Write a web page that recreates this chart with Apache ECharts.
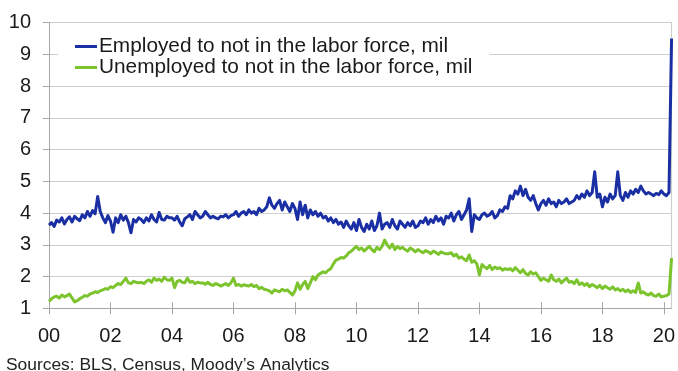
<!DOCTYPE html>
<html>
<head>
<meta charset="utf-8">
<script src="https://cdn.jsdelivr.net/npm/echarts@6/dist/echarts.min.js"></script>
<style>
  html, body { margin: 0; padding: 0; background: #fff; }
  #chart { width: 678px; height: 371px; }
</style>
</head>
<body>
<div id="chart"></div>
<script>
// Monthly flows into "not in the labor force", millions, Jan 2000 - Apr 2020
const startYear = 2000;
const yearLabels = ['00', '02', '04', '06', '08', '10', '12', '14', '16', '18', '20'];
const yTicks = [1, 2, 3, 4, 5, 6, 7, 8, 9, 10];

const employedToNilf = [
  3.62, 3.70, 3.58, 3.78, 3.72, 3.85, 3.66, 3.80, 3.88, 3.72, 3.90, 3.82,
  3.76, 3.95, 3.85, 4.05, 3.90, 4.08, 3.98, 4.52, 4.05, 3.85, 3.70, 3.92,
  3.75, 3.40, 3.85, 3.70, 3.95, 3.78, 3.90, 3.70, 3.38, 3.80, 3.72, 3.85,
  3.80, 3.70, 3.85, 3.75, 3.95, 3.80, 3.72, 4.02, 3.80, 3.78, 3.90, 3.85,
  3.85, 3.78, 3.90, 3.72, 3.60, 3.82, 3.88, 3.95, 3.80, 4.05, 3.95, 3.85,
  3.90, 4.05, 3.95, 3.85, 3.90, 3.85, 3.82, 3.90, 3.88, 3.95, 3.85, 3.92,
  3.95, 4.05, 3.90, 4.00, 4.05, 3.95, 4.10, 4.00, 4.05, 3.95, 4.15, 4.05,
  4.10, 4.20, 4.48, 4.25, 4.15, 4.30, 4.40, 4.10, 4.35, 4.20, 4.05, 4.30,
  4.15, 3.80, 4.35, 3.95, 4.25, 3.85, 4.10, 3.95, 4.05, 3.90, 4.00, 3.85,
  3.90, 3.75, 3.85, 3.70, 3.80, 3.65, 3.72, 3.55, 3.75, 3.60, 3.50, 3.70,
  3.45, 3.80, 3.55, 3.42, 3.65, 3.50, 3.75, 3.45, 3.60, 4.00, 3.50, 3.65,
  3.70, 3.55, 3.80, 3.60, 3.50, 3.75, 3.65, 3.55, 3.70, 3.60, 3.75, 3.55,
  3.60, 3.75, 3.70, 3.85, 3.65, 3.80, 3.70, 3.90, 3.75, 3.85, 3.65, 3.90,
  3.85, 4.00, 3.75, 3.95, 4.05, 3.80, 3.95, 4.10, 4.45, 3.42, 3.95, 3.85,
  3.80, 3.95, 4.00, 3.90, 3.95, 4.05, 3.85, 3.92, 4.10, 4.05, 4.20, 4.15,
  4.55, 4.45, 4.70, 4.60, 4.85, 4.55, 4.75, 4.50, 4.40, 4.55, 4.30, 4.10,
  4.30, 4.40, 4.25, 4.45, 4.30, 4.35, 4.20, 4.40, 4.30, 4.35, 4.45, 4.30,
  4.35, 4.40, 4.55, 4.45, 4.60, 4.50, 4.70, 4.55, 4.65, 5.30, 4.50, 4.60,
  4.20, 4.50, 4.35, 4.60, 4.45, 4.55, 5.30, 4.55, 4.40, 4.65, 4.50, 4.70,
  4.60, 4.75, 4.65, 4.85, 4.70, 4.60, 4.65, 4.60, 4.55, 4.62, 4.58, 4.70,
  4.60, 4.55, 4.65, 9.50
];

const unemployedToNilf = [
  1.22, 1.30, 1.36, 1.38, 1.32, 1.42, 1.36, 1.40, 1.45, 1.32, 1.20, 1.24,
  1.30, 1.35, 1.40, 1.38, 1.45, 1.48, 1.52, 1.50, 1.55, 1.58, 1.62, 1.60,
  1.68, 1.65, 1.72, 1.78, 1.75, 1.85, 1.95, 1.80, 1.78, 1.85, 1.82, 1.80,
  1.82, 1.78, 1.85, 1.90, 1.82, 1.95, 1.88, 1.92, 1.85, 1.98, 1.90, 1.88,
  1.95, 1.65, 1.85, 1.88, 1.82, 1.80, 1.95, 1.82, 1.85, 1.78, 1.82, 1.80,
  1.80, 1.76, 1.82, 1.75, 1.72, 1.78, 1.75, 1.70, 1.74, 1.78, 1.72, 1.80,
  1.95, 1.72, 1.75, 1.70, 1.74, 1.72, 1.70, 1.75, 1.68, 1.72, 1.62, 1.66,
  1.60, 1.58, 1.55, 1.48, 1.58, 1.55, 1.52, 1.60, 1.55, 1.58, 1.50, 1.42,
  1.55, 1.80, 1.60, 1.75, 1.85, 1.62, 1.80, 2.00, 1.90, 2.05, 2.10, 2.15,
  2.12, 2.20, 2.25, 2.40, 2.52, 2.55, 2.60, 2.58, 2.65, 2.75, 2.80, 2.88,
  2.95, 2.85, 2.90, 2.80, 2.88, 2.95, 2.85, 2.78, 2.92, 2.85, 2.95, 3.15,
  3.00, 2.90, 3.02, 2.85, 2.95, 2.88, 2.92, 2.85, 2.80, 2.90, 2.85, 2.78,
  2.85, 2.80, 2.75, 2.82, 2.78, 2.72, 2.80, 2.76, 2.70, 2.78, 2.74, 2.72,
  2.72, 2.75, 2.65, 2.70, 2.58, 2.62, 2.55, 2.50, 2.68, 2.45, 2.50, 2.40,
  2.05, 2.38, 2.30, 2.25, 2.35, 2.22, 2.30, 2.25, 2.28, 2.20, 2.25, 2.22,
  2.25, 2.18, 2.28, 2.20, 2.12, 2.22, 2.10, 2.05, 2.15, 2.08, 2.12, 2.00,
  1.88, 1.95, 1.90, 1.85, 2.05, 1.90, 1.85, 1.92, 1.80, 1.88, 1.95, 1.82,
  1.85, 1.78, 1.90, 1.75, 1.80, 1.72, 1.78, 1.68, 1.75, 1.70, 1.65, 1.72,
  1.62, 1.70, 1.65, 1.60, 1.68, 1.58, 1.62, 1.55, 1.60, 1.52, 1.58, 1.50,
  1.55, 1.50, 1.80, 1.48, 1.52, 1.45, 1.42, 1.48, 1.40, 1.38, 1.45, 1.36,
  1.38, 1.40, 1.45, 2.58
];

const seriesNames = [
  'Employed to not in the labor force, mil',
  'Unemployed to not in the labor force, mil'
];
const sourceNote = 'Sources: BLS, Census, Moody\u2019s Analytics';

// month categories, one per data point
const months = [];
for (let i = 0; i < employedToNilf.length; i++) {
  const y = startYear + Math.floor(i / 12);
  const m = (i % 12) + 1;
  months.push(y + '-' + (m < 10 ? '0' + m : m));
}

const FONT = "'Liberation Sans', Arial, sans-serif";
const AXIS_GREY = '#a6a6a6';
const GRID_GREY = '#cfcfcf';
const everyTwoYears = (idx) => idx % 24 === 0;

const chart = echarts.init(document.getElementById('chart'), null, { renderer: 'canvas' });

chart.setOption({
  animation: false,
  backgroundColor: '#ffffff',
  textStyle: { fontFamily: FONT },
  grid: { left: 49, right: 4, top: 22.7, bottom: 62.7, containLabel: false },
  legend: {
    orient: 'vertical',
    left: 58,
    top: 33,
    padding: [3, 17, 3, 17],
    backgroundColor: '#ffffff',
    icon: 'rect',
    itemWidth: 22,
    itemHeight: 3,
    itemGap: 0,
    textStyle: { fontFamily: FONT, fontSize: 20.8, color: '#1a1a1a', padding: [0, 0, 0, -3] },
    data: seriesNames
  },
  xAxis: [
    {
      type: 'category',
      data: months,
      boundaryGap: false,
      axisLine: { show: true, lineStyle: { color: AXIS_GREY, width: 1 } },
      axisTick: { show: true, inside: false, length: 6, interval: everyTwoYears, lineStyle: { color: AXIS_GREY } },
      axisLabel: {
        interval: everyTwoYears,
        margin: 18,
        fontFamily: FONT,
        fontSize: 20,
        color: '#1a1a1a',
        formatter: (v, idx) => yearLabels[idx / 24]
      },
      splitLine: { show: false }
    },
    {
      type: 'category',
      data: months,
      boundaryGap: false,
      position: 'bottom',
      axisLine: { show: false },
      axisTick: { show: true, inside: true, length: 6, interval: everyTwoYears, lineStyle: { color: AXIS_GREY } },
      axisLabel: { show: false },
      splitLine: { show: false }
    }
  ],
  yAxis: [
    {
      type: 'value',
      min: yTicks[0],
      max: yTicks[yTicks.length - 1],
      interval: 1,
      axisLine: { show: true, lineStyle: { color: AXIS_GREY, width: 1 } },
      axisTick: { show: true, inside: false, length: 6, lineStyle: { color: AXIS_GREY } },
      axisLabel: { margin: 18, fontFamily: FONT, fontSize: 20, color: '#1a1a1a' },
      splitLine: { show: true, lineStyle: { color: GRID_GREY, width: 1.2 } }
    },
    {
      type: 'value',
      position: 'right',
      min: yTicks[0],
      max: yTicks[yTicks.length - 1],
      interval: 1,
      axisLine: { show: true, lineStyle: { color: GRID_GREY, width: 1.2 } },
      axisTick: { show: false },
      axisLabel: { show: false },
      splitLine: { show: false }
    }
  ],
  series: [
    {
      name: seriesNames[1],
      type: 'line',
      data: unemployedToNilf,
      showSymbol: false,
      symbol: 'none',
      lineStyle: { color: '#7cc42e', width: 3, join: 'round' },
      itemStyle: { color: '#7cc42e' },
      z: 2
    },
    {
      name: seriesNames[0],
      type: 'line',
      data: employedToNilf,
      showSymbol: false,
      symbol: 'none',
      lineStyle: { color: '#1a2fa3', width: 3, join: 'round' },
      itemStyle: { color: '#1a2fa3' },
      z: 3
    }
  ],
  graphic: [
    {
      type: 'text',
      left: 6,
      top: 357,
      style: { text: sourceNote, fontFamily: FONT, fontSize: 17.4, fill: '#222' }
    }
  ]
});
</script>
</body>
</html>
